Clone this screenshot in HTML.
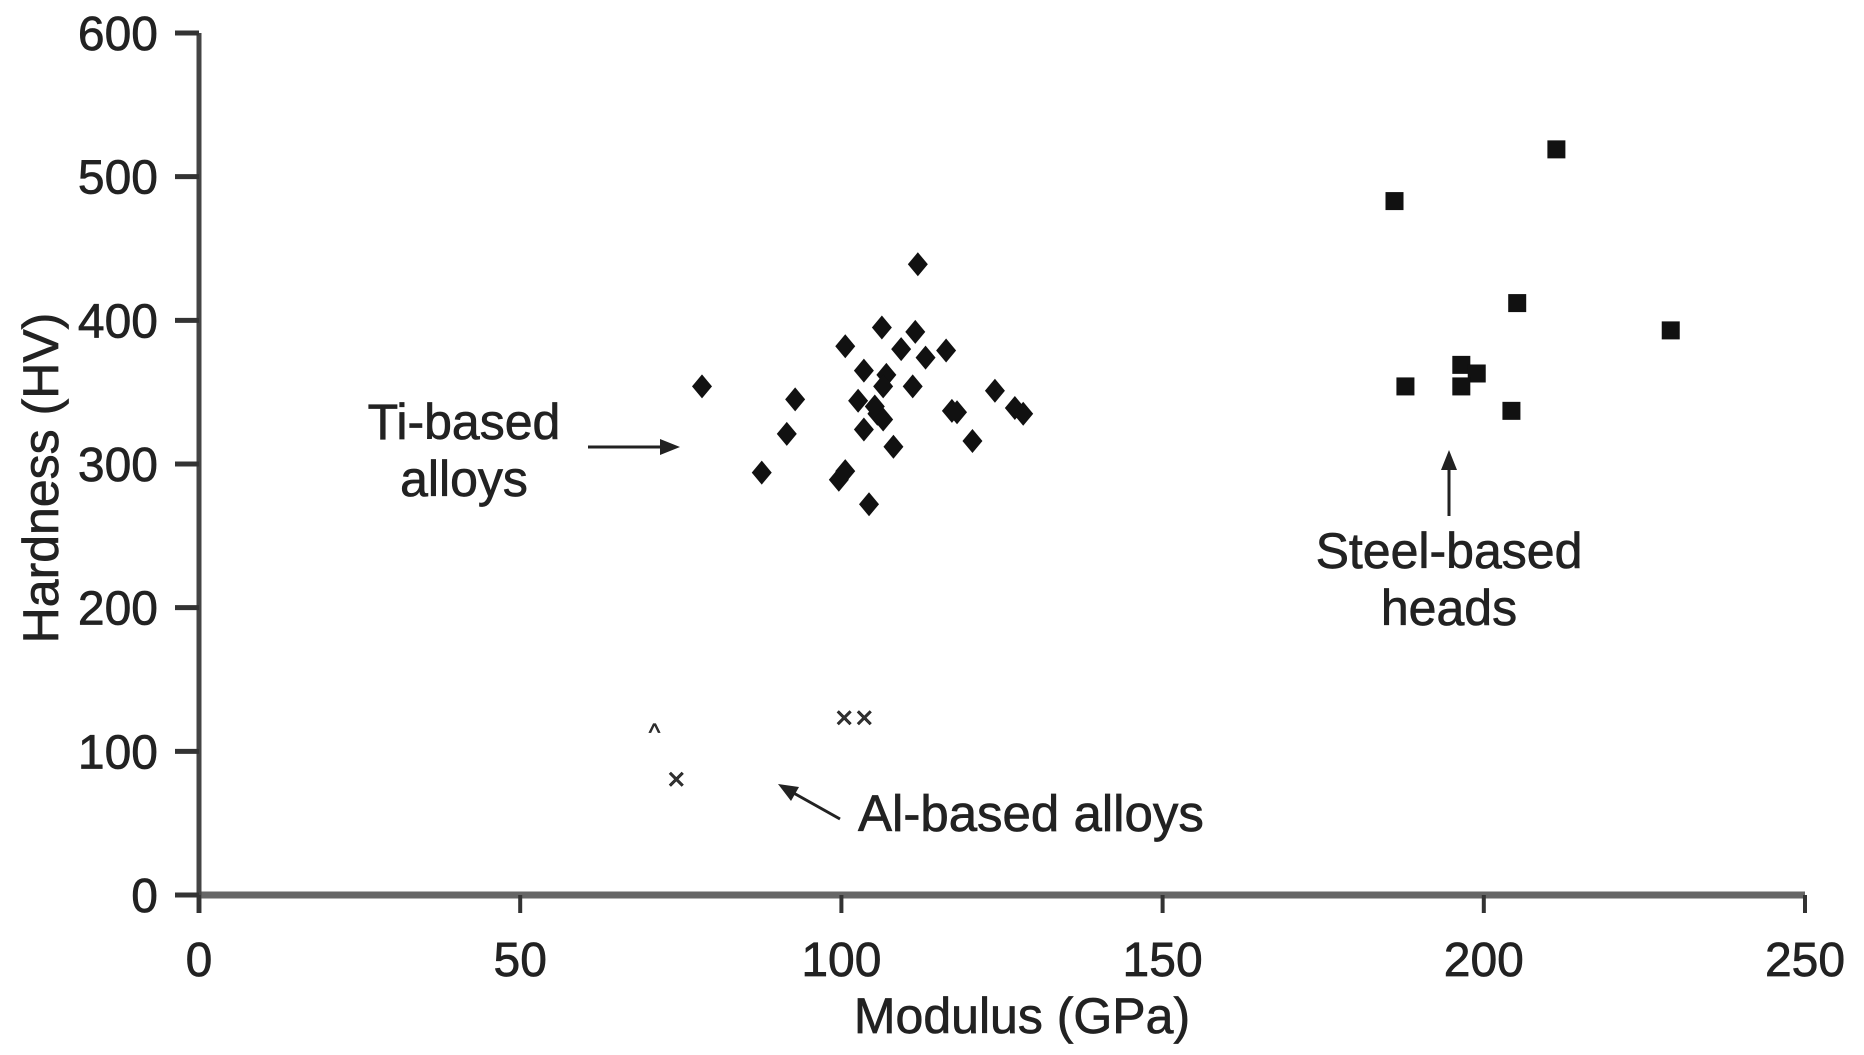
<!DOCTYPE html>
<html><head><meta charset="utf-8"><style>
body{margin:0;background:#fff}
svg{display:block;font-family:"Liberation Sans",Arial,sans-serif}
text{stroke:#222;stroke-width:0.7}
</style></head><body>
<svg id="chart" width="1864" height="1055" viewBox="0 0 1864 1055">
<g id="axes"></g><g id="marks"></g>
<g fill="#222" font-size="50">
<text x="464" y="439" text-anchor="middle">Ti-based</text>
<text x="464" y="496" text-anchor="middle">alloys</text>
<line x1="588" y1="447" x2="665" y2="447" stroke="#222" stroke-width="3"/>
<polygon points="680,447 660,439 660,455" fill="#222"/>
<text x="1449" y="568" text-anchor="middle">Steel-based</text>
<text x="1449" y="625" text-anchor="middle">heads</text>
<line x1="1449" y1="516" x2="1449" y2="465" stroke="#222" stroke-width="3"/>
<polygon points="1449,450 1441,470 1457,470" fill="#222"/>
<text x="858" y="831" font-size="51">Al-based alloys</text>
<line x1="840" y1="819" x2="790" y2="791" stroke="#222" stroke-width="3"/>
<polygon points="778,784 799,787 791,801" fill="#222"/>
<text x="1022" y="1033" text-anchor="middle">Modulus (GPa)</text>
<text transform="translate(58,478) rotate(-90)" text-anchor="middle">Hardness (HV)</text>
</g>
</svg>
<script>
const xTicks=[0,50,100,150,200,250];
const yTicks=[0,100,200,300,400,500,600];
const tiModulus=[78.3,92.8,91.5,87.6,100.6,106.3,111.9,111.5,109.3,113.1,116.3,103.5,107,106.5,111.1,102.6,105.2,105.6,106.5,103.5,108.1,117.2,118,123.9,127,128.3,120.4,100.6,99.6,104.3];
const tiHardness=[354,345,321,294,382,395,439,392,380,374,379,365,362,354,354,344,340,335,331,324,312,337,336,351,339,335,316,295,289,272];
const steelModulus=[186.1,211.3,205.2,229.1,187.8,196.5,198.9,196.5,204.3];
const steelHardness=[483,519,412,393,354,369,363,354,337];
const alModulus=[70.9,74.3,102];
const alHardness=[113,80,123];
const alSymbols=['^','x','w'];
const NS='http://www.w3.org/2000/svg';
const X=v=>199+v*(1805-199)/250;
const Y=v=>895-v*(895-33)/600;
const ax=document.getElementById('axes'),mk=document.getElementById('marks');
function mkEl(t,a,p){const e=document.createElementNS(NS,t);for(const k in a)e.setAttribute(k,a[k]);p.appendChild(e);return e;}
let e=mkEl('line',{x1:X(0),y1:Y(0),x2:X(250),y2:Y(0),stroke:'#666','stroke-width':7},ax);


e=mkEl('line',{x1:X(0),y1:Y(600),x2:X(0),y2:Y(0)+18,stroke:'#444','stroke-width':5},ax);


xTicks.forEach(t=>{
 let l=mkEl('line',{x1:X(t),y1:Y(0),x2:X(t),y2:Y(0)+18,stroke:'#333','stroke-width':4},ax);
 
 
 let tx=mkEl('text',{x:X(t),y:976,'text-anchor':'middle','font-size':48,fill:'#222'},ax);tx.textContent=t;
 
 
});
yTicks.forEach(t=>{
 let l=mkEl('line',{x1:X(0)-24,y1:Y(t),x2:X(0),y2:Y(t),stroke:'#333','stroke-width':5},ax);
 
 
 let tx=mkEl('text',{x:158,y:Y(t)+17,'text-anchor':'end','font-size':48,fill:'#222'},ax);tx.textContent=t;
 
 
});
tiModulus.forEach((m,i)=>{
 const x=X(m),y=Y(tiHardness[i]),r=12;
 let p=mkEl('polygon',{points:`${x},${y-r} ${x+r-2},${y} ${x},${y+r} ${x-r+2},${y}`,fill:'#111'},mk);
 
 
});
steelModulus.forEach((m,i)=>{
 const x=X(m),y=Y(steelHardness[i]);
 let p=mkEl('rect',{x:x-9,y:y-9,width:18,height:18,fill:'#111'},mk);
 
 
});
alModulus.forEach((m,i)=>{
 const x=X(m),y=Y(alHardness[i]);
 let p=mkEl('text',{x:x,y:y+8,'text-anchor':'middle','font-size':24,fill:'#333'},mk);
 p.textContent=alSymbols[i]==='^'?'^':(alSymbols[i]==='x'?'✕':'✕✕');
 
 
});
</script>
</body></html>
